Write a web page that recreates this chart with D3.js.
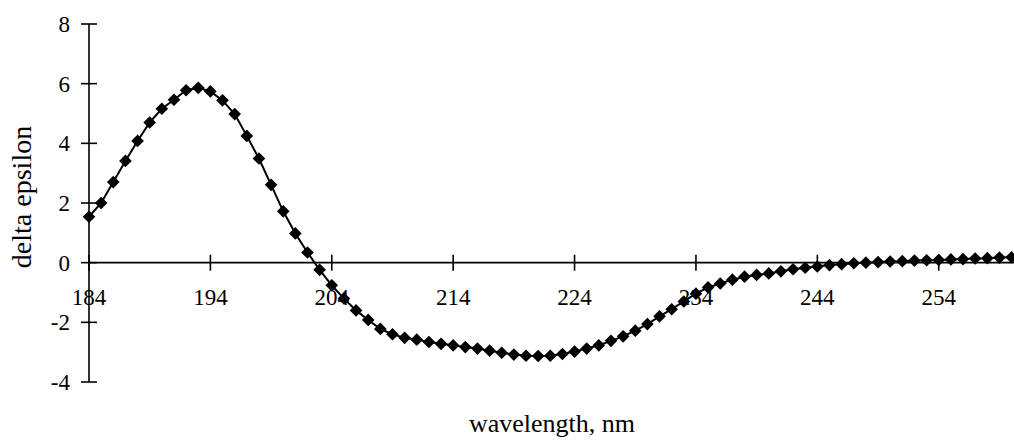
<!DOCTYPE html>
<html lang="en">
  <head>
    <title>CD spectrum</title>
    <script src="https://d3js.org/d3.v7.min.js"></script>
    <style>
      body
      {
        margin: 0;
        background: #ffffff;
      }
      text
      {
        font-family: "Liberation Serif", "DejaVu Serif", serif;
        fill: #000000;
      }
      .axis-line
      {
        stroke: #000000;
        stroke-width: 1.6;
        fill: none;
      }
      .series
      {
        stroke: #000000;
        stroke-width: 2;
        fill: none;
      }
      .marker
      {
        fill: #000000;
        stroke: none;
      }
    </style>
  </head>
  <body>
    <svg width="1014" height="440">
      <g id="axes"></g>
      <g id="labels"></g>
      <g id="series"></g>
    </svg>

    <script>
      // wavelength (nm), one reading per nm
      var wavelength = d3.range(184, 261);

      // delta epsilon
      var deltaEpsilon = [
        1.54, 2.00, 2.70, 3.41, 4.08, 4.70, 5.16, 5.46, 5.78, 5.86,
        5.74, 5.44, 4.98, 4.25, 3.49, 2.61, 1.72, 0.98, 0.34, -0.24,
        -0.76, -1.20, -1.60, -1.92, -2.22, -2.40, -2.52, -2.58, -2.66, -2.72,
        -2.77, -2.83, -2.88, -2.95, -3.02, -3.08, -3.12, -3.13, -3.12, -3.06,
        -2.98, -2.88, -2.77, -2.62, -2.47, -2.28, -2.06, -1.80, -1.56, -1.30,
        -1.04, -0.83, -0.70, -0.57, -0.47, -0.41, -0.36, -0.29, -0.22, -0.17,
        -0.13, -0.08, -0.05, -0.02, 0.00, 0.02, 0.04, 0.05, 0.07, 0.08,
        0.09, 0.11, 0.12, 0.14, 0.15, 0.17, 0.18
      ];

      var xTicks = [184, 194, 204, 214, 224, 234, 244, 254];
      var yTicks = [-4, -2, 0, 2, 4, 6, 8];

      var data = wavelength.map(function(w, i){ return {x: w, y: deltaEpsilon[i]}; });

      var xScale = d3.scaleLinear().domain([184, 260.2]).range([89, 1014]);
      var yScale = d3.scaleLinear().domain([-4, 8]).range([382, 24]);

      var axes = d3.select("svg g#axes");
      var labels = d3.select("svg g#labels");

      // vertical axis, ticks cross the line
      axes.append("line").attr("class", "axis-line")
          .attr("x1", xScale(184)).attr("x2", xScale(184))
          .attr("y1", yScale(8)).attr("y2", yScale(-4));

      axes.selectAll("line.ytick").data(yTicks).enter().append("line")
          .attr("class", "axis-line ytick")
          .attr("x1", xScale(184) - 8).attr("x2", xScale(184) + 8)
          .attr("y1", function(d){return yScale(d);})
          .attr("y2", function(d){return yScale(d);});

      // horizontal axis at zero
      axes.append("line").attr("class", "axis-line")
          .attr("x1", xScale(184)).attr("x2", 1014)
          .attr("y1", yScale(0)).attr("y2", yScale(0));

      axes.selectAll("line.xtick").data(xTicks).enter().append("line")
          .attr("class", "axis-line xtick")
          .attr("x1", function(d){return xScale(d);})
          .attr("x2", function(d){return xScale(d);})
          .attr("y1", yScale(0) - 8).attr("y2", yScale(0) + 8);

      labels.selectAll("text.ylab").data(yTicks).enter().append("text")
            .attr("class", "ylab")
            .attr("x", 70)
            .attr("y", function(d){return yScale(d);})
            .attr("dy", "0.35em")
            .attr("text-anchor", "end")
            .style("font-size", "23px")
            .text(function(d){return d;});

      labels.selectAll("text.xlab").data(xTicks).enter().append("text")
            .attr("class", "xlab")
            .attr("x", function(d){return xScale(d);})
            .attr("y", 305)
            .attr("text-anchor", "middle")
            .style("font-size", "23px")
            .text(function(d){return d;});

      labels.append("text")
            .attr("x", 552).attr("y", 432)
            .attr("text-anchor", "middle")
            .style("font-size", "26px")
            .text("wavelength, nm");

      labels.append("text")
            .attr("transform", "translate(31,197) rotate(-90)")
            .attr("text-anchor", "middle")
            .style("font-size", "28px")
            .text("delta epsilon");

      // the curve and its diamond markers
      var line = d3.line()
                   .x(function(d){return xScale(d.x);})
                   .y(function(d){return yScale(d.y);});

      var series = d3.select("svg g#series");
      series.append("path").attr("class", "series").attr("d", line(data));

      var diamond = d3.symbol().type(d3.symbolSquare).size(80);
      series.selectAll("path.marker").data(data).enter().append("path")
            .attr("class", "marker")
            .attr("d", diamond)
            .attr("transform", function(d){
              return "translate(" + xScale(d.x) + "," + yScale(d.y) + ") rotate(45)";
            });
    </script>
  </body>
</html>
